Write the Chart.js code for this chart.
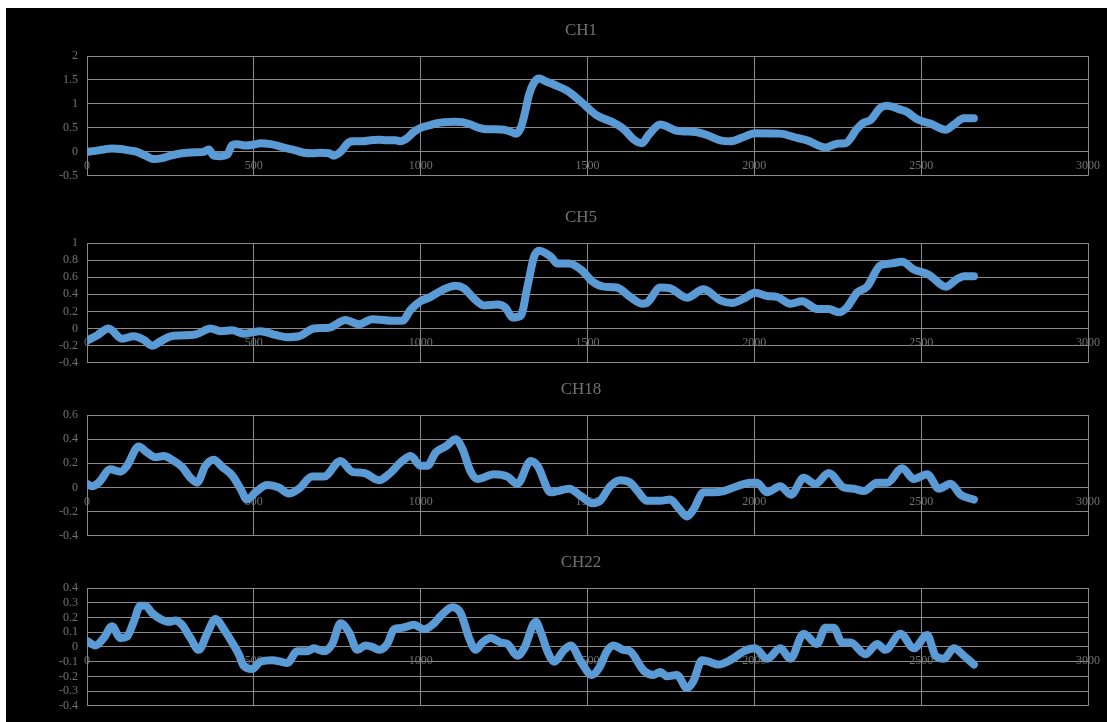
<!DOCTYPE html>
<html>
<head>
<meta charset="utf-8">
<script src="https://cdn.jsdelivr.net/npm/chart.js"></script>
<style>
  html, body { margin: 0; padding: 0; width: 1107px; height: 722px; overflow: hidden; background: #fff; }
  #frame { position: absolute; left: 6px; top: 8px; right: 0; bottom: 0; background: #000; }
  canvas { position: absolute; left: 6px; }
</style>
</head>
<body>
<div id="frame"></div>
<script>
// Sample positions along the recording
const xTicks = [0, 500, 1000, 1500, 2000, 2500, 3000];

// CH1
const ch1X = [0,25,50,75,100,125,150,175,200,225,250,275,300,325,350,365,380,400,420,435,
  450,475,500,520,550,575,600,625,650,675,700,725,740,760,785,800,825,850,875,900,
  925,940,960,980,1000,1025,1050,1075,1100,1125,1150,1175,1200,1225,1250,1270,1285,1300,1312,1325,
  1340,1355,1375,1400,1440,1480,1528,1578,1608,1638,1663,1683,1718,1768,1828,1858,1898,1928,1968,2002,
  2078,2128,2158,2213,2248,2273,2308,2328,2348,2378,2398,2438,2458,2488,2528,2573,2598,2628,2658];
const ch1Y = [0.0,0.02,0.05,0.07,0.06,0.03,0.0,-0.08,-0.15,-0.13,-0.08,-0.04,-0.02,-0.01,0.0,0.05,-0.08,-0.09,-0.06,0.14,
  0.16,0.13,0.15,0.18,0.16,0.12,0.07,0.03,-0.02,-0.03,-0.02,-0.03,-0.08,0.0,0.2,0.22,0.22,0.24,0.25,0.24,
  0.24,0.22,0.29,0.42,0.5,0.55,0.6,0.62,0.63,0.62,0.57,0.5,0.47,0.47,0.46,0.42,0.38,0.5,0.8,1.2,
  1.45,1.53,1.47,1.4,1.27,1.05,0.76,0.61,0.48,0.26,0.18,0.35,0.57,0.44,0.41,0.35,0.24,0.22,0.31,0.39,
  0.38,0.29,0.24,0.09,0.17,0.18,0.48,0.61,0.66,0.92,0.96,0.88,0.83,0.68,0.59,0.46,0.57,0.70,0.70];

// CH5
const ch5X = [0,30,65,105,140,170,195,220,250,280,325,370,400,435,470,520,560,600,635,680,
  725,775,815,855,920,945,970,1000,1030,1065,1105,1130,1160,1190,1230,1255,1275,1300,1320,1340,
  1355,1390,1410,1445,1480,1518,1548,1588,1628,1663,1678,1718,1748,1798,1848,1898,1933,1968,2002,2038,
  2068,2108,2143,2188,2223,2253,2278,2308,2338,2378,2408,2443,2478,2523,2573,2608,2628,2658];
const ch5Y = [-0.14,-0.08,0.0,-0.12,-0.09,-0.13,-0.2,-0.15,-0.09,-0.08,-0.07,0.0,-0.03,-0.02,-0.06,-0.03,-0.07,-0.1,-0.09,0.0,
  0.01,0.1,0.05,0.11,0.09,0.09,0.22,0.32,0.37,0.45,0.5,0.47,0.35,0.27,0.28,0.24,0.13,0.15,0.49,0.84,
  0.91,0.84,0.76,0.76,0.69,0.54,0.49,0.48,0.37,0.29,0.3,0.48,0.47,0.36,0.46,0.33,0.3,0.35,0.42,0.38,
  0.37,0.29,0.32,0.23,0.23,0.19,0.25,0.42,0.49,0.74,0.76,0.78,0.69,0.63,0.49,0.58,0.61,0.61];

// CH18
const ch18X = [0,15,35,70,100,120,155,180,205,230,260,285,310,330,355,380,405,435,460,480,
  505,540,575,605,635,675,710,760,795,830,875,905,945,970,1000,1020,1045,1075,1105,1125,
  1150,1170,1220,1260,1290,1330,1350,1390,1410,1445,1480,1515,1538,1568,1598,1628,1653,1678,1718,1748,
  1773,1798,1818,1848,1878,1908,1948,1988,2008,2038,2078,2110,2148,2183,2223,2268,2298,2328,2368,2398,
  2443,2478,2518,2553,2588,2618,2658];
const ch18Y = [0.03,0.01,0.04,0.15,0.13,0.18,0.34,0.29,0.25,0.26,0.22,0.17,0.08,0.04,0.18,0.23,0.17,0.1,-0.01,-0.1,
  -0.04,0.02,0.0,-0.05,-0.01,0.09,0.09,0.22,0.13,0.12,0.06,0.11,0.22,0.26,0.18,0.18,0.29,0.34,0.4,0.32,
  0.13,0.07,0.11,0.09,0.03,0.22,0.18,-0.04,-0.03,-0.01,-0.07,-0.13,-0.11,0.01,0.06,0.04,-0.04,-0.11,-0.11,-0.1,
  -0.17,-0.24,-0.18,-0.04,-0.04,-0.03,0.01,0.04,0.04,-0.04,0.01,-0.06,0.08,0.03,0.12,0.0,-0.01,-0.03,0.04,0.04,
  0.16,0.07,0.11,-0.01,0.03,-0.06,-0.1];

// CH22
const ch22X = [0,25,50,75,100,120,140,160,175,195,220,245,265,285,310,335,360,385,410,435,
  455,470,495,520,555,580,600,630,660,680,710,735,760,785,810,835,855,875,900,920,
  945,980,1010,1040,1060,1095,1120,1145,1165,1185,1210,1240,1260,1290,1310,1345,1360,1380,1400,1430,
  1450,1480,1513,1538,1558,1578,1608,1628,1668,1698,1718,1738,1768,1798,1818,1843,1863,1893,1928,1968,
  2002,2038,2078,2108,2148,2188,2213,2238,2263,2288,2333,2368,2393,2438,2478,2518,2543,2568,2598,2628,
  2658];
const ch22Y = [0.04,0.01,0.06,0.14,0.06,0.07,0.17,0.28,0.28,0.23,0.19,0.17,0.18,0.15,0.06,-0.02,0.09,0.19,0.12,0.03,
  -0.05,-0.13,-0.15,-0.1,-0.09,-0.1,-0.11,-0.03,-0.03,-0.01,-0.03,0.02,0.16,0.1,-0.02,0.01,0.0,-0.02,0.02,0.12,
  0.13,0.15,0.12,0.16,0.21,0.27,0.23,0.06,-0.02,0.03,0.06,0.03,0.02,-0.06,-0.01,0.17,0.1,-0.03,-0.1,-0.02,
  0.01,-0.1,-0.19,-0.13,-0.03,0.01,-0.02,-0.03,-0.16,-0.19,-0.17,-0.2,-0.19,-0.28,-0.23,-0.09,-0.1,-0.12,-0.09,-0.03,
  -0.01,-0.08,-0.01,-0.08,0.09,0.02,0.13,0.13,0.03,0.03,-0.05,0.02,-0.02,0.09,-0.01,0.08,-0.06,-0.08,-0.01,-0.06,
  -0.12];

// Titles and value ranges of the four channels
const titles = ['CH1', 'CH5', 'CH18', 'CH22'];
const yMins = [-0.5, -0.4, -0.4, -0.4];
const yMaxs = [2, 1, 0.6, 0.4];
const ySteps = [0.5, 0.2, 0.2, 0.1];
const seriesX = [ch1X, ch5X, ch18X, ch22X];
const seriesY = [ch1Y, ch5Y, ch18Y, ch22Y];

// Page geometry of each plot (top of plot area and its height)
const plotTops = [56, 243, 415, 588];
const plotHeights = [124, 124, 125, 124];
const bottomPads = [12, 12, 12, 10];

const FONT = "'Liberation Serif', 'Times New Roman', serif";
const GRID = '#8a8a8a';
const TEXT = '#727272';
const LINE = '#5B9BD5';
const HEAD = 36; // title band above each plot

// The value axis is kept narrow so the title centres where it should;
// widen its label clip region so the tick labels are not cut off.
const labelRoom = {
  id: 'labelRoom',
  afterLayout(chart) { chart.scales.y.left = 0; }
};

titles.forEach((title, i) => {
  const canvas = document.createElement('canvas');
  canvas.width = 1101;
  canvas.height = HEAD + plotHeights[i] + bottomPads[i];
  canvas.style.top = (plotTops[i] - HEAD) + 'px';
  document.body.appendChild(canvas);

  const points = seriesX[i].map((x, k) => ({ x: x, y: seriesY[i][k] }));

  new Chart(canvas, {
    type: 'line',
    data: {
      datasets: [{
        data: points,
        borderColor: LINE,
        borderWidth: 8,
        borderCapStyle: 'round',
        borderJoinStyle: 'round',
        pointRadius: 0,
        cubicInterpolationMode: 'monotone',
        fill: false
      }]
    },
    plugins: [labelRoom],
    options: {
      responsive: false,
      animation: false,
      devicePixelRatio: 1,
      events: [],
      layout: { padding: { left: 67.5, right: 18.5, top: 0, bottom: bottomPads[i] } },
      plugins: {
        legend: { display: false },
        tooltip: { enabled: false },
        title: {
          display: true,
          text: title,
          color: TEXT,
          font: { family: FONT, size: 17, weight: 'normal', lineHeight: 1.2 },
          padding: { top: 0, bottom: 15.6 }
        }
      },
      scales: {
        x: {
          type: 'linear',
          min: xTicks[0],
          max: xTicks[xTicks.length - 1],
          position: { y: 0 },
          afterBuildTicks: (s) => { s.ticks = xTicks.map(v => ({ value: v })); },
          ticks: {
            color: TEXT,
            font: { family: FONT, size: 12 },
            padding: 7,
            maxRotation: 0,
            autoSkip: false,
            callback: (v) => String(v)
          },
          grid: { color: GRID, lineWidth: 1, drawTicks: false },
          border: { color: GRID, width: 1 }
        },
        y: {
          min: yMins[i],
          max: yMaxs[i],
          ticks: {
            stepSize: ySteps[i],
            color: TEXT,
            font: { family: FONT, size: 12 },
            padding: 9,
            autoSkip: false,
            callback: (v) => String(Number(v.toFixed(2)))
          },
          grid: { color: GRID, lineWidth: 1, drawTicks: false },
          border: { color: GRID, width: 1 },
          afterFit: (s) => { s.width = 13.5; }
        }
      }
    }
  });
});
</script>
</body>
</html>
